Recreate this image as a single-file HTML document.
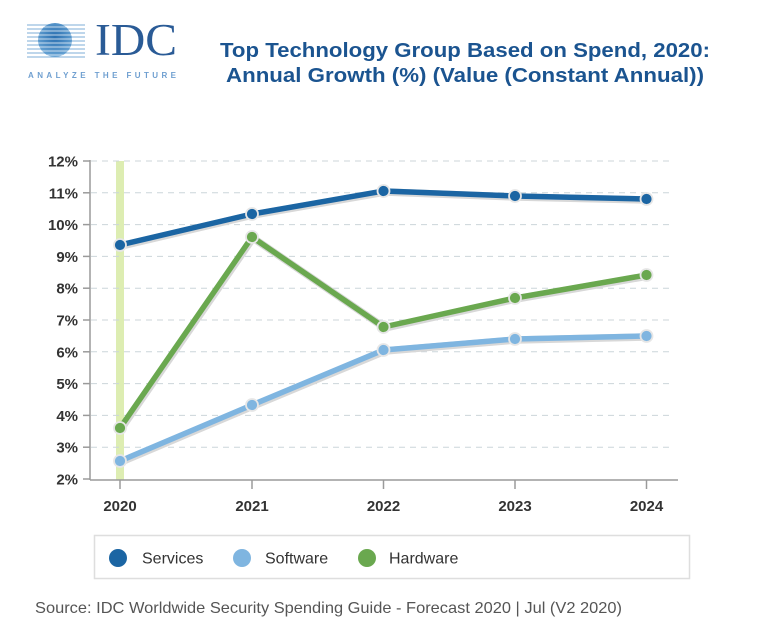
<!DOCTYPE html>
<html>
<head>
<meta charset="utf-8">
<style>
html,body{margin:0;padding:0;background:#fff;}
svg{display:block;}
</style>
</head>
<body>
<svg width="774" height="639" viewBox="0 0 774 639" xmlns="http://www.w3.org/2000/svg" font-family="Liberation Sans, Arial, sans-serif">
  <defs>
    <radialGradient id="sph" cx="50%" cy="40%" r="60%">
      <stop offset="0" stop-color="#2a6fb0"/>
      <stop offset="1" stop-color="#6aa6d6"/>
    </radialGradient>
    <clipPath id="sc"><circle cx="55" cy="40" r="17"/></clipPath>
  </defs>
  <rect width="774" height="639" fill="#fff"/>

  <!-- Logo -->
  <g>
    <g stroke="#b5d0e8" stroke-width="1.8">
      <line x1="27" y1="25" x2="85" y2="25"/>
      <line x1="27" y1="29" x2="85" y2="29"/>
      <line x1="27" y1="33" x2="85" y2="33"/>
      <line x1="27" y1="37" x2="85" y2="37"/>
      <line x1="27" y1="41" x2="85" y2="41"/>
      <line x1="27" y1="45" x2="85" y2="45"/>
      <line x1="27" y1="49" x2="85" y2="49"/>
      <line x1="27" y1="53" x2="85" y2="53"/>
      <line x1="27" y1="57" x2="85" y2="57"/>
    </g>
    <g clip-path="url(#sc)">
      <rect x="37" y="23" width="36" height="35" fill="url(#sph)"/>
      <g stroke="#ffffff" stroke-width="1.1" opacity="0.7">
        <line x1="37" y1="27" x2="73" y2="27"/>
        <line x1="37" y1="31" x2="73" y2="31"/>
        <line x1="37" y1="35" x2="73" y2="35"/>
        <line x1="37" y1="39" x2="73" y2="39"/>
        <line x1="37" y1="43" x2="73" y2="43"/>
        <line x1="37" y1="47" x2="73" y2="47"/>
        <line x1="37" y1="51" x2="73" y2="51"/>
        <line x1="37" y1="55" x2="73" y2="55"/>
      </g>
    </g>
    <text x="95" y="55" font-family="Liberation Serif, serif" font-size="45" fill="#2a5b96" textLength="82" lengthAdjust="spacingAndGlyphs">IDC</text>
    <text x="28" y="78" font-size="8" font-weight="bold" fill="#6f9fd0" textLength="148" lengthAdjust="spacing">ANALYZE THE FUTURE</text>
  </g>

  <!-- Title -->
  <text x="465" y="57" text-anchor="middle" font-size="20" font-weight="bold" fill="#1b5490" textLength="490" lengthAdjust="spacingAndGlyphs">Top Technology Group Based on Spend, 2020:</text>
  <text x="465" y="82" text-anchor="middle" font-size="20" font-weight="bold" fill="#1b5490" textLength="478" lengthAdjust="spacingAndGlyphs">Annual Growth (%) (Value (Constant Annual))</text>

  <!-- Highlight bar -->
  <rect x="116" y="161" width="8" height="319" fill="#ddedb2"/>

  <!-- Gridlines -->
  <g stroke="#ccd5da" stroke-width="1" stroke-dasharray="6,5">
    <line x1="91" y1="161" x2="673" y2="161"/>
    <line x1="91" y1="192.8" x2="673" y2="192.8"/>
    <line x1="91" y1="224.6" x2="673" y2="224.6"/>
    <line x1="91" y1="256.4" x2="673" y2="256.4"/>
    <line x1="91" y1="288.2" x2="673" y2="288.2"/>
    <line x1="91" y1="320" x2="673" y2="320"/>
    <line x1="91" y1="351.8" x2="673" y2="351.8"/>
    <line x1="91" y1="383.6" x2="673" y2="383.6"/>
    <line x1="91" y1="415.4" x2="673" y2="415.4"/>
    <line x1="91" y1="447.2" x2="673" y2="447.2"/>
  </g>

  <!-- Axes -->
  <g stroke="#9a9a9a" stroke-width="1.5">
    <line x1="90" y1="160" x2="90" y2="480"/>
    <line x1="90" y1="480" x2="678" y2="480"/>
    <line x1="83" y1="161" x2="90" y2="161"/>
    <line x1="83" y1="192.8" x2="90" y2="192.8"/>
    <line x1="83" y1="224.6" x2="90" y2="224.6"/>
    <line x1="83" y1="256.4" x2="90" y2="256.4"/>
    <line x1="83" y1="288.2" x2="90" y2="288.2"/>
    <line x1="83" y1="320" x2="90" y2="320"/>
    <line x1="83" y1="351.8" x2="90" y2="351.8"/>
    <line x1="83" y1="383.6" x2="90" y2="383.6"/>
    <line x1="83" y1="415.4" x2="90" y2="415.4"/>
    <line x1="83" y1="447.2" x2="90" y2="447.2"/>
    <line x1="83" y1="479" x2="90" y2="479"/>
    <line x1="120" y1="480" x2="120" y2="489"/>
    <line x1="252" y1="480" x2="252" y2="489"/>
    <line x1="383.5" y1="480" x2="383.5" y2="489"/>
    <line x1="515" y1="480" x2="515" y2="489"/>
    <line x1="646.5" y1="480" x2="646.5" y2="489"/>
  </g>

  <!-- Y labels -->
  <g font-size="15" font-weight="bold" fill="#333" text-anchor="end">
    <text x="78" y="166.5">12%</text>
    <text x="78" y="198.3">11%</text>
    <text x="78" y="230.1">10%</text>
    <text x="78" y="261.9">9%</text>
    <text x="78" y="293.7">8%</text>
    <text x="78" y="325.5">7%</text>
    <text x="78" y="357.3">6%</text>
    <text x="78" y="389.1">5%</text>
    <text x="78" y="420.9">4%</text>
    <text x="78" y="452.7">3%</text>
    <text x="78" y="484.5">2%</text>
  </g>

  <!-- X labels -->
  <g font-size="15" font-weight="bold" fill="#333" text-anchor="middle">
    <text x="120" y="511">2020</text>
    <text x="252" y="511">2021</text>
    <text x="383.5" y="511">2022</text>
    <text x="515" y="511">2023</text>
    <text x="646.5" y="511">2024</text>
  </g>

  <!-- Series: shadows -->
  <g fill="none" stroke="#d8d8d8" stroke-width="7.5" stroke-linejoin="round" stroke-linecap="round">
    <polyline points="121,462 253,406 385,351 516,340 648,337"/>
    <polyline points="121,429 253,238 385,328 516,299 648,276"/>
    <polyline points="121,246 253,215 385,192 516,197 648,200"/>
  </g>
  <!-- Software -->
  <polyline points="120,461 252,405 383.5,350 515,339 646.5,336" fill="none" stroke="#7fb5e0" stroke-width="5.5" stroke-linejoin="round"/>
  <!-- Hardware -->
  <polyline points="120,428 252,237 383.5,327 515,298 646.5,275" fill="none" stroke="#6aa84f" stroke-width="5.5" stroke-linejoin="round"/>
  <!-- Services -->
  <polyline points="120,245 252,214 383.5,191 515,196 646.5,199" fill="none" stroke="#1b65a3" stroke-width="5.5" stroke-linejoin="round"/>

  <!-- Markers -->
  <g stroke="#e6e6e6" stroke-width="1.8">
    <g fill="#7fb5e0">
      <circle cx="120" cy="461" r="6"/>
      <circle cx="252" cy="405" r="6"/>
      <circle cx="383.5" cy="350" r="6"/>
      <circle cx="515" cy="339" r="6"/>
      <circle cx="646.5" cy="336" r="6"/>
    </g>
    <g fill="#6aa84f">
      <circle cx="120" cy="428" r="6"/>
      <circle cx="252" cy="237" r="6"/>
      <circle cx="383.5" cy="327" r="6"/>
      <circle cx="515" cy="298" r="6"/>
      <circle cx="646.5" cy="275" r="6"/>
    </g>
    <g fill="#1b65a3">
      <circle cx="120" cy="245" r="6"/>
      <circle cx="252" cy="214" r="6"/>
      <circle cx="383.5" cy="191" r="6"/>
      <circle cx="515" cy="196" r="6"/>
      <circle cx="646.5" cy="199" r="6"/>
    </g>
  </g>

  <!-- Legend -->
  <rect x="94.5" y="535.5" width="595" height="43" fill="#fff" stroke="#dedede" stroke-width="1.5"/>
  <circle cx="118" cy="558" r="9" fill="#1b65a3"/>
  <text x="142" y="563.5" font-size="16" fill="#333">Services</text>
  <circle cx="242" cy="558" r="9" fill="#7fb5e0"/>
  <text x="265" y="563.5" font-size="16" fill="#333">Software</text>
  <circle cx="367" cy="558" r="9" fill="#6aa84f"/>
  <text x="389" y="563.5" font-size="16" fill="#333">Hardware</text>

  <!-- Source -->
  <text x="35" y="613" font-size="16" fill="#555" textLength="587" lengthAdjust="spacingAndGlyphs">Source: IDC Worldwide Security Spending Guide - Forecast 2020 | Jul (V2 2020)</text>
</svg>
</body>
</html>
